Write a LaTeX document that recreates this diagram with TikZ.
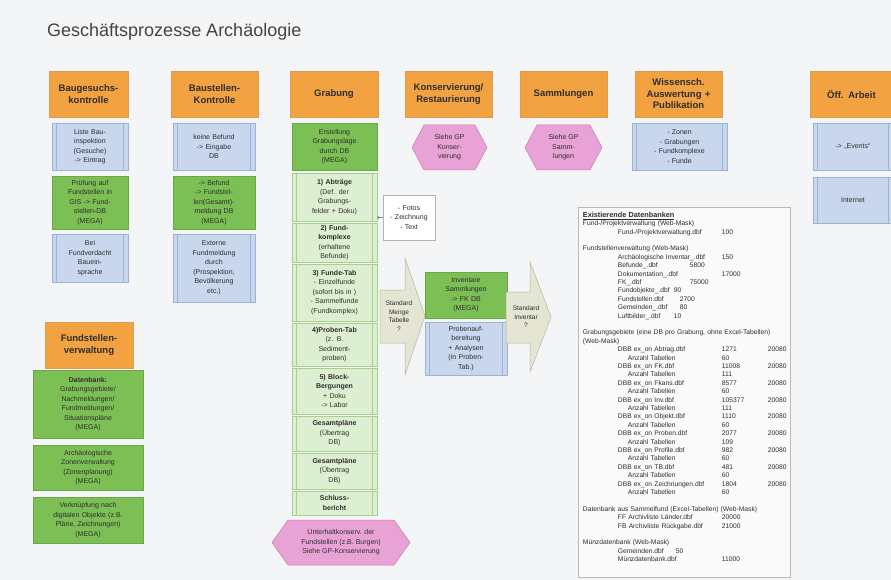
\documentclass[tikz,border=0pt]{standalone}
\usepackage{fontspec}
\setmainfont{Liberation Sans}
\usetikzlibrary{arrows.meta}
\definecolor{bg}{HTML}{F4F5F7}
\definecolor{orF}{HTML}{F2A240}
\definecolor{orD}{HTML}{DE9A50}
\definecolor{blF}{HTML}{C8D6EE}
\definecolor{blD}{HTML}{9EB2D8}
\definecolor{grF}{HTML}{7CBF55}
\definecolor{grD}{HTML}{68A845}
\definecolor{lgF}{HTML}{DDEFD1}
\definecolor{lgD}{HTML}{A9CF90}
\definecolor{pkF}{HTML}{E8A2D6}
\definecolor{pkD}{HTML}{C87DB6}
\definecolor{arF}{HTML}{E5E5D3}
\definecolor{arD}{HTML}{B5B5A0}
\definecolor{tx}{HTML}{2E2E2E}
\tikzset{
 base/.style={inner sep=0pt, align=center, text=tx, font=\fontsize{7}{9.5}\selectfont, line width=0.5pt},
 procl/.style={path picture={\draw[#1, line width=0.5pt]
   ([xshift=4.5pt]path picture bounding box.north west) -- ([xshift=4.5pt]path picture bounding box.south west)
   ([xshift=-4.5pt]path picture bounding box.north east) -- ([xshift=-4.5pt]path picture bounding box.south east);}},
 hdr/.style={base, fill=orF, draw=orD, font=\bfseries\fontsize{9.5}{11.5}\selectfont},
 blu/.style={base, fill=blF, draw=blD, procl=blD},
 grn/.style={base, fill=grF, draw=grD},
 lgr/.style={base, fill=lgF, draw=lgD, procl=lgD},
 sidebox/.style={base, fill=white, draw=gray!60},
 tbl/.style={base, fill=white!55!bg, draw=gray!55},
 lbl/.style={inner sep=0pt, align=center, text=tx, font=\fontsize{7}{9.5}\selectfont},
 arrshape/.style={fill=arF, draw=arD, line width=0.5pt},
 hexshape/.style={fill=pkF, draw=pkD, line width=0.5pt},
}
\newcommand\bx[7]{%
 \pgfmathsetmacro\bxW{#5-#3}\pgfmathsetmacro\bxH{#6-#4}%
 \pgfmathsetmacro\bxT{#5-#3-6}%
 \pgfmathsetmacro\bxX{(#3+#5)/2}\pgfmathsetmacro\bxY{(#4+#6)/2}%
 \node[#1, minimum width=\bxW pt, minimum height=\bxH pt, text width=\bxT pt] (#2) at (\bxX,\bxY) {#7};}
\newcommand\hexa[7]{%
 \pgfmathsetmacro\hxA{#2+#6}\pgfmathsetmacro\hxB{#4-#6}%
 \pgfmathsetmacro\hxC{(#3+#5)/2}\pgfmathsetmacro\hxM{(#2+#4)/2}%
 \draw[hexshape] (#2,\hxC) -- (\hxA,#3) -- (\hxB,#3) -- (#4,\hxC) -- (\hxB,#5) -- (\hxA,#5) -- cycle;
 \node[lbl] (#1) at (\hxM,\hxC) {#7};}
\newcommand\dr[5]{\hspace*{#1pt}\makebox[#2pt][l]{#3}\makebox[46pt][l]{#4}#5}
\begin{document}
\begin{tikzpicture}[x=1pt,y=-1pt]
\useasboundingbox (0,0) rectangle (891,580);
\fill[bg] (0,0) rectangle (891,580);
\node[anchor=west, inner sep=0pt, font=\fontsize{18}{20}\selectfont, text=tx!90] (title) at (47,32) {Geschäftsprozesse Archäologie};
% headers
\bx{hdr}{h1}{49}{71}{128}{117}{Baugesuchs-\\kontrolle}
\bx{hdr}{h2}{171}{71}{258}{117}{Baustellen-\\Kontrolle}
\bx{hdr}{h3}{290}{71}{378}{117}{Grabung}
\bx{hdr}{h4}{405}{71}{492}{117}{Konservierung/\\Restaurierung}
\bx{hdr}{h5}{520}{71}{607}{117}{Sammlungen}
\bx{hdr}{h6}{635}{71}{722}{117}{Wissensch.\\Auswertung +\\Publikation}
\bx{hdr}{h7}{810}{71}{893}{117}{Öff. Arbeit}
\bx{hdr}{h8}{45}{322}{133}{368}{Fundstellen-\\verwaltung}
% column 1
\bx{blu}{a1}{52}{123}{128}{170}{Liste Bau-\\inspektion\\(Gesuche)\\-> Eintrag}
\bx{grn}{a2}{52}{176}{128}{229}{Prüfung auf\\Fundstellen in\\GIS -> Fund-\\stellen-DB\\(MEGA)}
\bx{blu}{a3}{52}{234}{128}{282}{Bei\\Fundverdacht\\Bauein-\\sprache}
% column 2
\bx{blu}{b1}{173}{123}{255}{170}{keine Befund\\-> Eingabe\\DB}
\bx{grn}{b2}{173}{176}{255}{229}{-> Befund\\-> Fundstel-\\len(Gesamt)-\\meldung DB\\(MEGA)}
\bx{blu}{b3}{173}{234}{255}{302}{Externe\\Fundmeldung\\durch\\(Prospektion,\\Bevölkerung\\etc.)}
% column 3
\bx{grn}{c0}{292}{123}{377}{170}{Erstellung\\Grabungslage\\durch DB\\(MEGA)}
\bx{lgr}{c1}{292}{173}{377}{221}{\textbf{1) Abträge}\\(Def. der\\Grabungs-\\felder + Doku)}
\bx{lgr}{c2}{292}{223}{377}{262}{\textbf{2) Fund-}\\\textbf{komplexe}\\(erhaltene\\Befunde)}
\bx{lgr}{c3}{292}{264}{377}{321}{\textbf{3) Funde-Tab}\\- Einzelfunde\\(sofort bis in )\\- Sammelfunde\\(Fundkomplex)}
\bx{lgr}{c4}{292}{323}{377}{366}{\textbf{4)Proben-Tab}\\(z. B.\\Sediment-\\proben)}
\bx{lgr}{c5}{292}{368}{377}{414}{\textbf{5) Block-}\\\textbf{Bergungen}\\+ Doku\\-> Labor}
\bx{lgr}{c6}{292}{416}{377}{451}{\textbf{Gesamtpläne}\\(Übertrag\\DB)}
\bx{lgr}{c7}{292}{453}{377}{489}{\textbf{Gesamtpläne}\\(Übertrag\\DB)}
\bx{lgr}{c8}{292}{491}{377}{515}{\textbf{Schluss-}\\\textbf{bericht}}
\hexa{c9}{272}{520}{410}{565}{16}{Unterhaltkonserv. der\\Fundstellen (z.B. Burgen)\\Siehe GP-Konservierung}
% side box
\bx{sidebox}{sd}{383}{195}{435}{240}{- Fotos\\- Zeichnung\\- Text}
\draw[blD!80!black, line width=0.5pt, {Circle[length=2.5pt]}-] (sd.west -| c1.east) -- (sd.west);
% konservierung / sammlungen
\hexa{k1}{412}{125}{487}{170}{12}{Siehe GP\\Konser-\\vierung}
\hexa{s1}{525}{125}{602}{170}{12}{Siehe GP\\Samm-\\lungen}
% arrows and middle
\draw[arrshape] (380,290) -- (405,290) -- (405,258) -- (425,316) -- (405,375) -- (405,343) -- (380,343) -- cycle;
\node[lbl, font=\fontsize{6.5}{8.5}\selectfont] (m1) at (399,316) {Standard\\Menge\\Tabelle\\?};
\bx{grn}{d1}{425}{272}{507}{318}{Inventare\\Sammlungen\\-> FK DB\\(MEGA)}
\bx{blu}{d2}{425}{322}{507}{375}{Probenauf-\\bereitung\\+ Analysen\\(in Proben-\\Tab.)}
\draw[arrshape] (506,292) -- (530,292) -- (530,262) -- (551,317) -- (530,372) -- (530,343) -- (506,343) -- cycle;
\node[lbl, font=\fontsize{6.5}{8.5}\selectfont] (m2) at (526,317) {Standard\\Inventar\\?};
% wissensch / oeff
\bx{blu}{e1}{632}{123}{727}{170}{- Zonen\\- Grabungen\\- Fundkomplexe\\- Funde}
\bx{blu}{f1}{813}{123}{893}{170}{-> „Events“}
\bx{blu}{f2}{813}{177}{893}{223}{Internet}
% fundstellenverwaltung
\bx{grn}{g1}{33}{370}{143}{438}{\textbf{Datenbank:}\\Grabungsgebiete/\\Nachmeldungen/\\Fundmeldungen/\\Situationspläne\\(MEGA)}
\bx{grn}{g2}{33}{445}{143}{490}{Archäologische\\Zonenverwaltung\\(Zonenplanung)\\(MEGA)}
\bx{grn}{g3}{33}{497}{143}{543}{Verknüpfung nach\\digitalen Objekte (z.B.\\Pläne, Zeichnungen)\\(MEGA)}
% table
\bx{tbl}{tb}{578}{207}{790}{577}{}
\node[anchor=north west, inner sep=0pt, align=left, text width=208pt, text=tx, font=\fontsize{6.7}{8.4}\selectfont] (tt) at ([xshift=5pt,yshift=-5pt]tb.north west) {%
\underline{\textbf{\fontsize{7.3}{8.4}\selectfont Existierende Datenbanken}}\\
Fund-/Projektverwaltung (Web-Mask)\\
\dr{35}{104}{Fund-/Projektverwaltung.dbf}{100}{}\\
\mbox{}\\
Fundstellenverwaltung (Web-Mask)\\
\dr{35}{104}{Archäologische Inventar\_.dbf}{150}{}\\
\dr{35}{72}{Befunde\_.dbf}{5800}{}\\
\dr{35}{104}{Dokumentation\_.dbf}{17000}{}\\
\dr{35}{72}{FK\_.dbf}{75000}{}\\
\dr{35}{56}{Fundobjekte\_.dbf}{90}{}\\
\dr{35}{62}{Fundstellen.dbf}{2700}{}\\
\dr{35}{62}{Gemeinden\_.dbf}{80}{}\\
\dr{35}{56}{Luftbilder\_.dbf}{10}{}\\
\mbox{}\\
Grabungsgebiete (eine DB pro Grabung, ohne Excel-Tabellen)\\
(Web-Mask)\\
\dr{35}{104}{DBB ex\_on Abtrag.dbf}{1271}{20080}\\
\dr{45}{94}{Anzahl Tabellen}{60}{}\\
\dr{35}{104}{DBB ex\_on FK.dbf}{11008}{20080}\\
\dr{45}{94}{Anzahl Tabellen}{111}{}\\
\dr{35}{104}{DBB ex\_on Fkans.dbf}{8577}{20080}\\
\dr{45}{94}{Anzahl Tabellen}{60}{}\\
\dr{35}{104}{DBB ex\_on Inv.dbf}{105377}{20080}\\
\dr{45}{94}{Anzahl Tabellen}{111}{}\\
\dr{35}{104}{DBB ex\_on Objekt.dbf}{1110}{20080}\\
\dr{45}{94}{Anzahl Tabellen}{60}{}\\
\dr{35}{104}{DBB ex\_on Proben.dbf}{2077}{20080}\\
\dr{45}{94}{Anzahl Tabellen}{109}{}\\
\dr{35}{104}{DBB ex\_on Profile.dbf}{982}{20080}\\
\dr{45}{94}{Anzahl Tabellen}{60}{}\\
\dr{35}{104}{DBB ex\_on TB.dbf}{481}{20080}\\
\dr{45}{94}{Anzahl Tabellen}{60}{}\\
\dr{35}{104}{DBB ex\_on Zeichnungen.dbf}{1804}{20080}\\
\dr{45}{94}{Anzahl Tabellen}{60}{}\\
\mbox{}\\
Datenbank aus Sammelfund (Excel-Tabellen) (Web-Mask)\\
\dr{35}{104}{FF Archivliste Länder.dbf}{20000}{}\\
\dr{35}{104}{FB Archivliste Rückgabe.dbf}{21000}{}\\
\mbox{}\\
Münzdatenbank (Web-Mask)\\
\dr{35}{58}{Gemeinden.dbf}{50}{}\\
\dr{35}{104}{Münzdatenbank.dbf}{11000}{}};
\end{tikzpicture}
\end{document}
